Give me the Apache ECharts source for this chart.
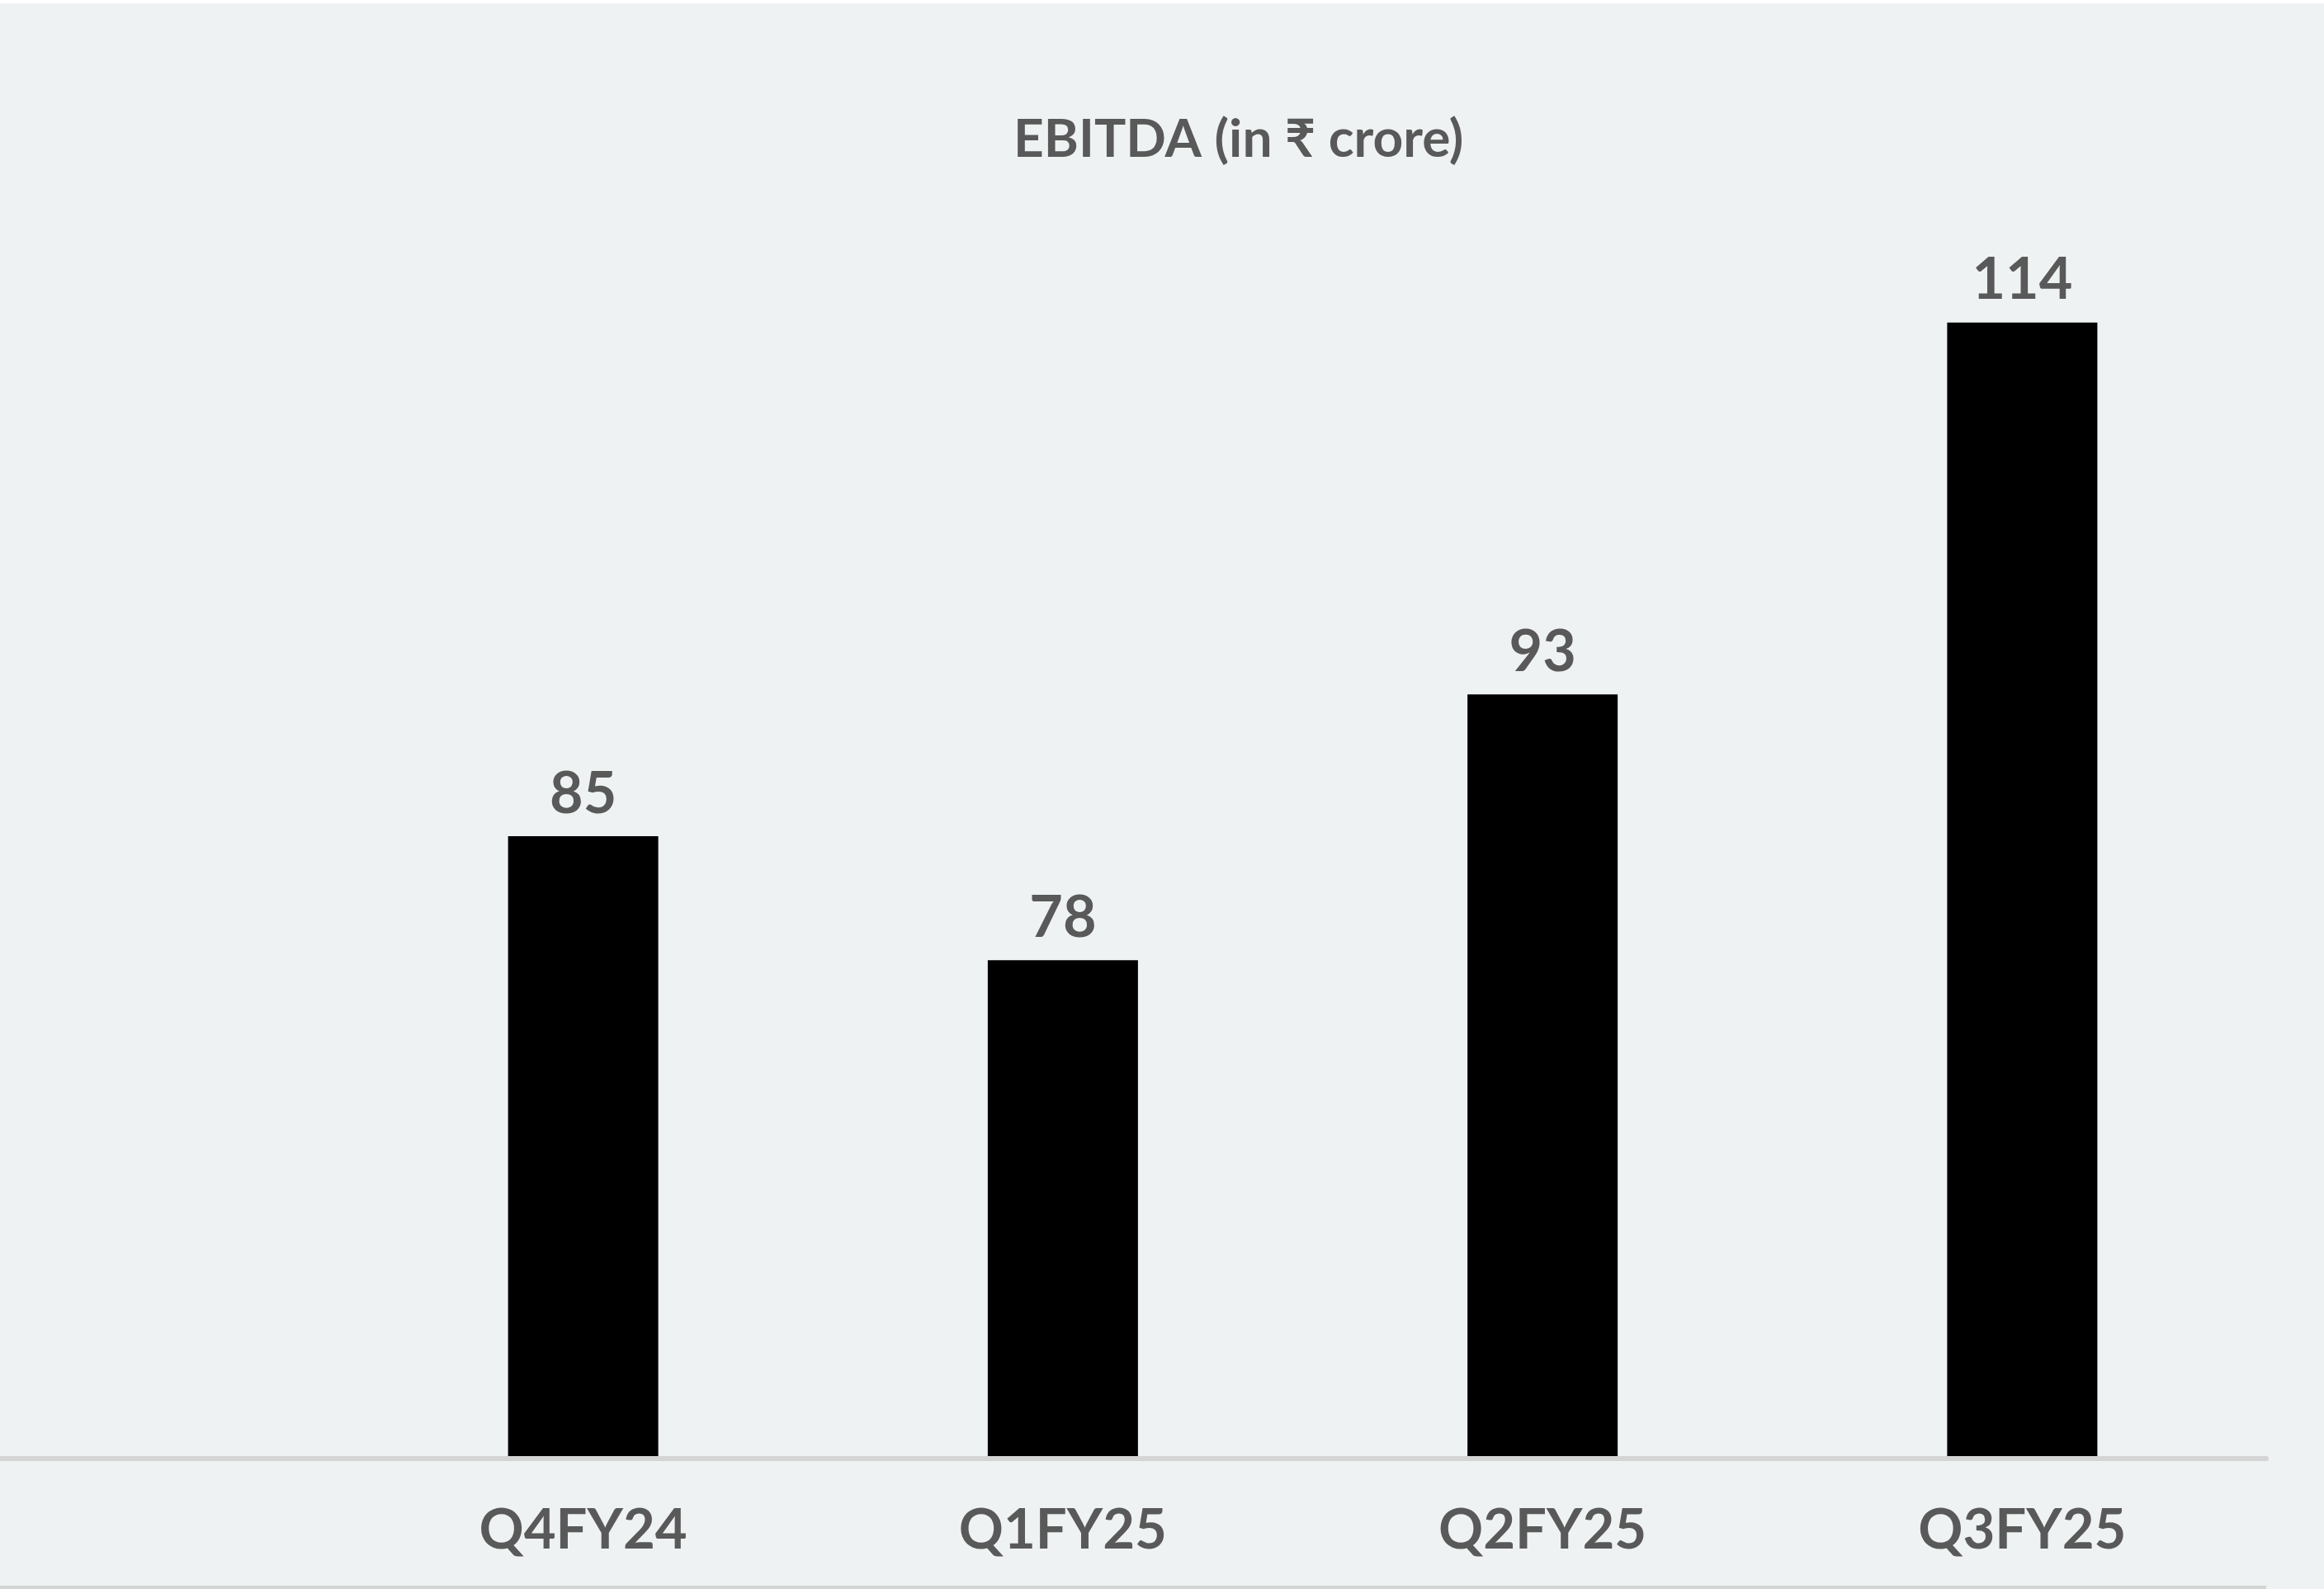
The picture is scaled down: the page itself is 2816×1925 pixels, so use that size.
<!DOCTYPE html>
<html>
<head>
<meta charset="utf-8">
<title>EBITDA (in ₹ crore)</title>
<script src="https://cdn.jsdelivr.net/npm/echarts@6/dist/echarts.min.js"></script>
<style>
  html, body { margin: 0; padding: 0; background: #ffffff; }
  #chart { width: 2816px; height: 1925px; }
</style>
</head>
<body>
<div id="chart"></div>
<script>
// Quarterly EBITDA, ₹ crore
const titleText = 'EBITDA (in ₹ crore)';
const quarters = ['Q4FY24', 'Q1FY25', 'Q2FY25', 'Q3FY25'];
const ebitda = [85, 78, 93, 114];

const TEXT = '#595959';
const RULE = '#d4d4d4';
const FONT = 'Lato, "Noto Sans", "DejaVu Sans", sans-serif';

const chart = echarts.init(document.getElementById('chart'), null, { renderer: 'canvas' });

chart.setOption({
  backgroundColor: '#eef2f3',
  animation: false,
  title: {
    text: titleText,
    left: 1223,
    top: 132,
    textStyle: { color: TEXT, fontFamily: FONT, fontWeight: 'bold', fontSize: 64 }
  },
  grid: [
    // plot area for the bars
    { left: 416, right: 75, top: 262, bottom: 161 },
    // full-width baseline rule
    { left: 0, right: 70, bottom: 158, height: 20 }
  ],
  xAxis: [
    {
      type: 'category',
      gridIndex: 0,
      data: quarters,
      axisLine: { show: false },
      axisTick: { show: false },
      axisLabel: {
        color: TEXT, fontFamily: FONT, fontWeight: 'bold', fontSize: 67, margin: 57
      }
    },
    {
      type: 'category',
      gridIndex: 1,
      data: [''],
      axisLine: { show: true, lineStyle: { color: RULE, width: 6 } },
      axisTick: { show: false },
      axisLabel: { show: false }
    }
  ],
  yAxis: [
    { type: 'value', gridIndex: 0, min: 50, max: 120, show: false },
    { type: 'value', gridIndex: 1, show: false }
  ],
  graphic: [
    { type: 'rect', shape: { x: 0, y: 0, width: 2816, height: 4 }, style: { fill: '#ffffff' }, silent: true },
    { type: 'rect', shape: { x: 0, y: 1921, width: 2746, height: 4 }, style: { fill: RULE }, silent: true }
  ],
  series: [
    {
      type: 'bar',
      xAxisIndex: 0,
      yAxisIndex: 0,
      data: ebitda,
      barWidth: 182,
      itemStyle: { color: '#000000' },
      label: {
        show: true,
        position: 'top',
        distance: 16,
        color: TEXT,
        fontFamily: FONT,
        fontWeight: 'bold',
        fontSize: 70
      }
    }
  ]
});
</script>
</body>
</html>
